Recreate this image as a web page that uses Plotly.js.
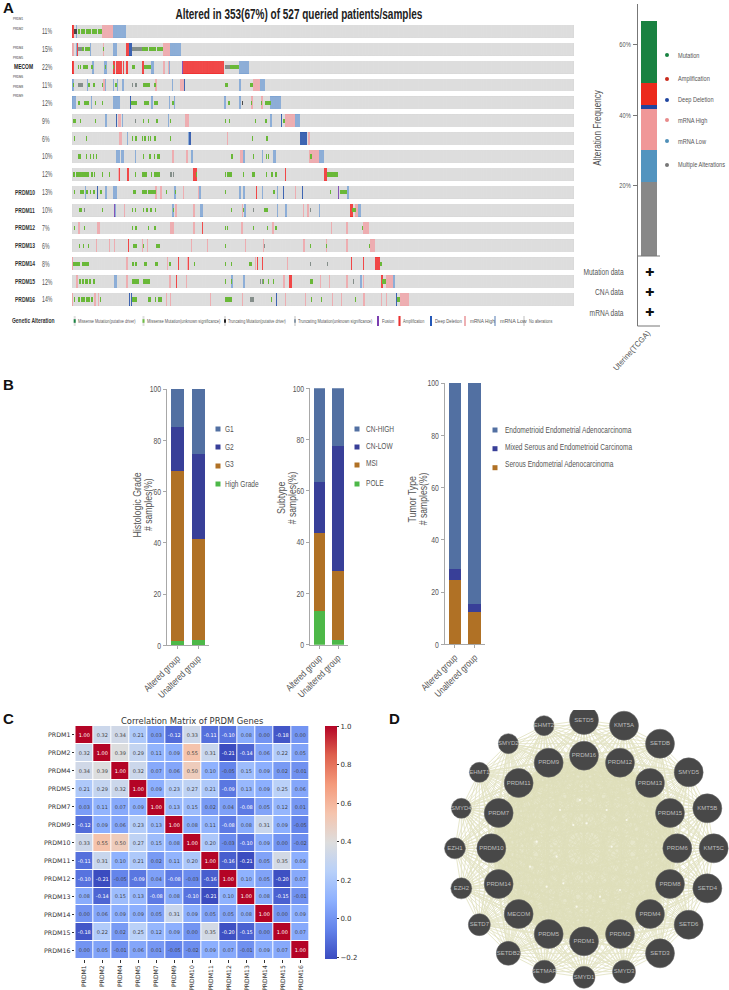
<!DOCTYPE html>
<html><head><meta charset="utf-8">
<script src="https://cdn.plot.ly/plotly-3.0.1.min.js"></script>
<style>html,body{margin:0;padding:0;background:#fff}</style></head>
<body><div id="chart" style="width:729px;height:990px"></div>
<script>
// ---------- Panel A oncoprint: alteration runs [firstSample,lastSample) per gene row ----------
const genes = ['PRDM1','PRDM2','MECOM','PRDM4','PRDM5','PRDM6','PRDM7','PRDM8','PRDM9','PRDM10','PRDM11','PRDM12','PRDM13','PRDM14','PRDM15','PRDM16'];
const pct = ['11%','15%','22%','11%','12%','9%','6%','10%','12%','13%','10%','7%','6%','8%','12%','14%'];
const mrnaHigh = [
 [[31,43]],
 [[0,2],[33,34],[57,60],[96,103]],
 [[96,98],[101,103]],
 [[33,35],[87,89],[113,118],[190,197]],
 [[188,190],[198,200]],
 [[36,37],[48,51],[119,123],[224,234]],
 [[49,52],[163,164],[248,250]],
 [[105,107],[120,122],[176,179],[249,259]],
 [[48,49],[58,59],[127,129],[224,225],[265,266]],
 [[87,89],[92,94],[116,118],[132,133],[193,194],[234,235]],
 [[55,56],[108,110],[127,129],[178,179],[243,244],[247,249],[297,300]],
 [[6,8],[26,29],[103,107],[127,129],[177,180],[210,212],[272,273],[288,290],[305,312]],
 [[25,26],[39,40],[44,45],[74,75],[79,80],[125,126],[142,143],[182,183],[201,202],[243,245],[267,268],[288,290],[313,318]],
 [[0,1],[57,59],[100,101],[121,122],[192,193],[226,227],[306,307]],
 [[4,6],[57,59],[102,104],[120,121],[222,224],[260,261],[270,271],[288,290],[306,307],[330,337]],
 [[0,1],[23,25],[27,28],[99,100],[103,104],[145,146],[178,179],[224,225],[245,246],[273,274],[282,283],[306,308],[324,325],[330,331],[344,354]]
];
const mrnaLow = [
 [[43,57],[4,5]],
 [[4,6],[19,20],[43,47],[103,114]],
 [[21,23],[34,37],[83,86],[102,103],[175,186]],
 [[0,2],[16,17],[35,36],[43,44],[47,48],[53,55],[105,106],[175,177],[197,203]],
 [[0,4],[20,21],[43,50],[83,85],[102,103],[107,108],[160,162],[175,177],[208,219]],
 [[35,37],[52,54],[101,102],[208,210],[234,239]],
 [[58,59],[122,123]],
 [[46,50],[51,55],[66,67],[125,127],[180,182],[199,200],[211,214],[259,265]],
 [],
 [[14,15],[35,37],[43,47],[107,109],[133,135],[175,177],[180,182],[199,200],[215,216],[289,291]],
 [[44,46],[105,107],[134,137],[181,183],[200,201],[215,216],[224,226],[259,260],[300,303]],
 [],
 [],
 [],
 [[44,47],[167,169],[180,182],[302,304],[337,339]],
 []
];
const amp = [
 [[0,2]],
 [[5,6],[57,60]],
 [[0,2],[43,45],[46,53],[54,55],[57,59],[74,76],[117,160]],
 [],[],[],[],[],
 [[49,50],[58,60],[127,131],[224,225],[265,268]],
 [[193,194]],
 [[292,295]],
 [[136,138]],
 [[59,60]],
 [[52,53],[111,112],[122,123],[194,195],[199,200],[293,294],[306,307],[318,323]],
 [[109,110],[228,231],[324,326]],
 []
];
const deepDel = [
 [],
 [[60,63]],
 [],
 [[118,119]],
 [[61,62]],
 [[46,47],[219,220]],
 [[123,125],[239,247]],
 [],
 [],
 [[26,27],[222,223],[241,242]],
 [],[],[],[],[],
 [[60,61],[62,63],[214,215],[340,341]]
];
const fusion = [
 [],[],[[115,117]],[],[],[],[],[],[],[[279,280]],[[44,45]],[],[],[],[],[]
];
const missense = [
 [[6,8],[9,14],[15,20],[21,26],[27,31]],
 [[10,13],[14,19],[33,34],[74,80],[81,88],[89,96]],
 [[6,7],[8,9],[12,17],[20,22],[35,36],[43,44],[63,66],[76,83],[166,175]],
 [[1,2],[17,19],[22,24],[32,33],[45,47],[75,82],[86,88],[161,164],[187,190]],
 [[6,8],[13,18],[24,25],[32,33],[62,68],[76,81],[86,90],[105,107],[164,166],[188,189],[198,199],[203,209]],
 [[1,4],[8,9],[24,25],[75,76],[80,81],[88,90],[103,104],[161,162],[165,166],[192,193],[203,205],[221,224]],
 [[2,3],[15,16],[63,64],[66,68],[74,75],[76,78],[80,81],[82,83],[86,88],[103,104],[189,190],[204,206]],
 [[6,9],[15,16],[19,20],[22,23],[25,26],[75,76],[81,83],[86,87],[89,92],[167,169],[190,191],[204,205],[206,207],[250,252]],
 [[1,3],[4,10],[11,18],[20,22],[23,24],[32,33],[39,40],[66,67],[74,79],[83,84],[86,92],[130,131],[161,162],[163,168],[180,181],[189,192],[204,205],[209,211],[213,215],[268,279]],
 [[2,3],[8,10],[11,13],[15,17],[19,20],[22,24],[29,31],[64,67],[74,79],[80,88],[99,100],[108,109],[161,162],[211,213],[271,272],[281,289]],
 [[7,11],[32,33],[63,64],[66,67],[75,76],[78,80],[82,84],[87,88],[106,107],[167,168],[180,181],[202,206],[294,298]],
 [[2,3],[10,11],[13,14],[63,64],[66,68],[80,81],[86,88],[161,162],[163,164],[190,191],[205,206],[213,215],[304,306]],
 [[7,8],[12,13],[17,18],[64,68],[75,76],[88,92],[161,162],[250,251],[267,268],[312,313]],
 [[1,8],[10,18],[63,65],[66,68],[76,79],[87,90],[102,104],[128,129],[161,162],[167,168],[186,189],[323,325]],
 [[7,9],[10,13],[14,17],[18,20],[22,24],[63,70],[75,82],[161,162],[167,168],[201,202],[206,207],[211,212],[250,253],[325,330]],
 [[2,3],[6,8],[9,14],[15,19],[20,22],[29,30],[63,68],[80,83],[87,88],[90,94],[161,168],[209,210],[251,252],[261,262],[297,298],[341,344]]
];
const truncating = [
 [],
 [[6,10],[63,74]],
 [[161,166]],
 [[6,12],[63,64],[66,68]],
 [],
 [[66,67]],
 [],[],
 [[103,105],[106,107]],
 [],
 [[13,14],[190,191],[250,251]],
 [],
 [[202,203]],
 [[250,251],[268,269]],
 [[197,198],[199,200],[295,296]],
 [[187,191]]
];
const driver = [
 [[2,5]],[],[],[],[[178,179]],[],[],[],[],[],[],[],[],[],[],[]
];
const sampleCount = 527;
// ---------- Panel A frequency bar ----------
const freqLabels = ['Multiple Alterations','mRNA Low','mRNA High','Deep Deletion','Amplification','Mutation'];
const freqValues = [21.1,8.9,11.6,1.3,6.1,17.7];
const freqColors = ['#888888','#5394bf','#f09798','#1f45a0','#ec2a1c','#198241'];
const dataTypes = ['Mutation data','CNA data','mRNA data'];
// ---------- Panel B ----------
const groups = ['Altered group','Unaltered group'];
const gradeValues = [[1.8,66.2,17,15],[2.2,39.1,33.5,25.2]];
const subtypeValues = [[13.3,30.4,19.6,36.7],[1.8,27.1,48.4,22.7]];
const tumorValues = [[24.6,4.4,71],[12.5,2.8,84.7]];
const stackColors4 = ['#4db848','#b07125','#383f98','#5270a2'];
const stackColors3 = ['#b07125','#383f98','#5270a2'];
// ---------- Panel C ----------
const corrGenes = ['PRDM1','PRDM2','PRDM4','PRDM5','PRDM7','PRDM9','PRDM10','PRDM11','PRDM12','PRDM13','PRDM14','PRDM15','PRDM16'];
const corr = [
 [1,.32,.34,.21,.03,-.12,.33,-.11,-.10,.08,0,-.18,0],
 [.32,1,.39,.29,.11,.09,.55,.31,-.21,-.14,.06,.22,.05],
 [.34,.39,1,.32,.07,.06,.50,.10,-.05,.15,.09,.02,-.01],
 [.21,.29,.32,1,.09,.23,.27,.21,-.09,.13,.09,.25,.06],
 [.03,.11,.07,.09,1,.13,.15,.02,.04,-.08,.05,.12,.01],
 [-.12,.09,.06,.23,.13,1,.08,.11,-.08,.08,.31,.09,-.05],
 [.33,.55,.50,.27,.15,.08,1,.20,-.03,-.10,.09,-.001,-.02],
 [-.11,.31,.10,.21,.02,.11,.20,1,-.16,-.21,.05,.35,.09],
 [-.10,-.21,-.05,-.09,.04,-.08,-.03,-.16,1,.10,.05,-.20,.07],
 [.08,-.14,.15,.13,-.08,.08,-.10,-.21,.10,1,.08,-.15,-.01],
 [0,.06,.09,.09,.05,.31,.09,.05,.05,.08,1,0,.09],
 [-.18,.22,.02,.25,.12,.09,-.001,.35,-.20,-.15,0,1,.07],
 [0,.05,-.01,.06,.01,-.05,-.02,.09,.07,-.01,.09,.07,1]
];
const coolwarm = [[0,'#3b4cc0'],[.125,'#6282ea'],[.25,'#8db0fe'],[.375,'#b8d0f9'],[.5,'#dddddd'],[.625,'#f5c4ad'],[.75,'#f49a7b'],[.875,'#de604d'],[1,'#b40426']];
// ---------- Panel D network ----------
const netNames = ['SETD5','KMT5A','SETDB','SMYD5','KMT5B','KMT5C','SETD4','SETD6','SETD3','SMYD3','SMYD1','SETMAR','SETDB2','SETD7','EZH2','EZH1','SMYD4','EHMT1','SMYD2','EHMT2','PRDM16','PRDM12','PRDM13','PRDM15','PRDM6','PRDM8','PRDM4','PRDM2','PRDM1','PRDM5','MECOM','PRDM14','PRDM10','PRDM7','PRDM11','PRDM9'];
const netX = [492,612,720,806,862,881,862,806,720,612,492,373,265,178,124,105,124,178,265,372,492,600,690,750,772,750,690,600,492,386,296,236,214,236,296,386];
const netY = [30,47,101,187,295,415,535,644,730,785,802,785,730,644,535,415,295,187,101,47,137,158,219,309,415,522,612,672,694,672,612,522,415,309,219,158];
const netSize = [29,29,29,29,29,29,29,29,29,23,22,23,24,22,21,21,20,20,20,20,29,29,29,29,29,29,29,29,29,29,29,29,29,29,29,29];
const netGapX = [460,480,575,600,380,350,420,500,430,540,410,620,330,560,470];
const netGapY = [345,270,410,540,530,395,300,340,520,560,440,330,470,300,590];

// ---------- helpers ----------
const W=729,H=990, NARROW='"Liberation Sans",sans-serif', DJ='"DejaVu Sans",sans-serif';
const dx=(a,b)=>[a/W,b/W], dy=(top,bot)=>[1-bot/H,1-top/H];
const traces=[], annotations=[], shapes=[], squeezes=[];
function lbl(text,x,y,size,o={}){
 squeezes.push({s:o.sq||1,anchor:o.xanchor||'left'});
 annotations.push({text,x:x/W,y:1-y/H,xref:'paper',yref:'paper',showarrow:false,xanchor:o.xanchor||'left',yanchor:'middle',borderpad:0,textangle:o.textangle||0,
  font:{family:o.family||NARROW,size,color:o.color||'#444',weight:o.weight||400}});
}
function rect(x0,y0,x1,y1,c){shapes.push({type:'rect',xref:'paper',yref:'paper',x0:x0/W,x1:x1/W,y0:1-y0/H,y1:1-y1/H,fillcolor:c,line:{width:0},layer:'above'});}
function line(x0,y0,x1,y1,c,w){shapes.push({type:'line',xref:'paper',yref:'paper',x0:x0/W,x1:x1/W,y0:1-y0/H,y1:1-y1/H,line:{color:c,width:w||1},layer:'above'});}
const RH=0.716, MH=0.24;
function runs(layer,color,h){
 const xs=[],ws=[],bs=[],ys=[];
 layer.forEach((row,r)=>row.forEach(([a,b])=>{xs.push((a+b)/2);ws.push(b-a);bs.push(r-h/2);ys.push(h);}));
 traces.push({type:'bar',x:xs,y:ys,base:bs,width:ws,marker:{color,line:{width:0}},xaxis:'x',yaxis:'y',hoverinfo:'skip'});
}
// Oncoprint: every sample of every gene starts as "no alteration"
runs(genes.map(()=>[[0,sampleCount]]),'#d6d6d6',RH);
runs(mrnaHigh,'#ea9b9f',RH);
runs(mrnaLow,'#729bce',RH);
runs(amp,'#ee1c1c',RH);
runs(deepDel,'#10409f',RH);
runs(fusion,'#6a2ca6',RH);
runs(missense,'#46a809',MH);
runs(truncating,'#68746f',MH);
runs(driver,'#1c1c1c',MH);
// Thin gaps between the sample columns
const sepX=[],sepY=[];
genes.forEach((g,r)=>{for(let s=1;s<sampleCount;s++){sepX.push(s,s,null);sepY.push(r-RH/2,r+RH/2,null);}});
traces.push({type:'scatter',mode:'lines',x:sepX,y:sepY,line:{color:'#ffffff',width:.2},xaxis:'x',yaxis:'y',hoverinfo:'skip'});
// Frequency stacked bar
let cum=0;
freqValues.forEach((v,i)=>{traces.push({type:'bar',x:[0.52],y:[v],base:[cum],width:[0.7],marker:{color:freqColors[i],line:{width:0}},xaxis:'x2',yaxis:'y2',hoverinfo:'skip'});cum+=v;});
// Panel B stacks
function stack(values,colors,ax,ay){
 colors.forEach((c,i)=>{
  const base=values.map(v=>v.slice(0,i).reduce((s,n)=>s+n,0));
  traces.push({type:'bar',x:groups,y:values.map(v=>v[i]),base,width:[.63,.63],marker:{color:c,line:{width:0}},xaxis:ax,yaxis:ay,hoverinfo:'skip'});
 });
}
stack(gradeValues,stackColors4,'x3','y3');
stack(subtypeValues,stackColors4,'x4','y4');
stack(tumorValues,stackColors3,'x5','y5');
// Heatmap
traces.push({type:'heatmap',z:corr,x:corrGenes,y:corrGenes,xaxis:'x6',yaxis:'y6',zmin:-.21,zmax:1,colorscale:coolwarm,xgap:1,ygap:1,texttemplate:'%{z:.2f}',textfont:{family:DJ,size:5},hoverinfo:'skip',
 colorbar:{x:324.7/W,xanchor:'left',y:1-959.3/H,yanchor:'bottom',thicknessmode:'pixels',thickness:11.5,lenmode:'pixels',len:233.3,ypad:0,xpad:0,outlinewidth:0,tickvals:[-.2,0,.2,.4,.6,.8,1],tickformat:'.1f',ticks:'outside',ticklen:2.5,tickcolor:'#333',tickfont:{family:DJ,size:7,color:'#333'}}});
// Network: pale disc inside the inner ring, all gene pairs as edges, gaps in the mesh, then nodes
const ringStart=netNames.indexOf('PRDM16');
traces.push({type:'scatter',mode:'lines',x:netX.slice(ringStart).concat(netX[ringStart]),y:netY.slice(ringStart).concat(netY[ringStart]),fill:'toself',fillcolor:'#e6e6ca',line:{width:0,color:'#e6e6ca'},xaxis:'x7',yaxis:'y7',hoverinfo:'skip'});
const ex=[],ey=[];
netNames.forEach((a,i)=>netNames.forEach((b,j)=>{if(j>i){ex.push(netX[i],netX[j],null);ey.push(netY[i],netY[j],null);}}));
traces.push({type:'scatter',mode:'lines',x:ex,y:ey,line:{color:'#dedeb8',width:.9},opacity:.8,xaxis:'x7',yaxis:'y7',hoverinfo:'skip'});
traces.push({type:'scatter',mode:'markers',x:netGapX,y:netGapY,marker:{size:2.2,color:'#fbfbf2',opacity:.9,line:{width:0}},xaxis:'x7',yaxis:'y7',hoverinfo:'skip'});
traces.push({type:'scatter',mode:'markers+text',x:netX,y:netY,text:netNames,textposition:'middle center',textfont:{family:'"Liberation Sans",sans-serif',size:6,color:'#bdbdbd'},marker:{size:netSize,color:'#484848',opacity:1,line:{width:.5,color:'#6a6a6a'}},xaxis:'x7',yaxis:'y7',hoverinfo:'skip'});

// ---------- axes ----------
const hidden={showgrid:false,zeroline:false,showline:false,showticklabels:false,ticks:'',fixedrange:true};
const bAxisY=(d)=>({domain:d,range:[0,100],tickvals:[0,20,40,60,80,100],showgrid:false,zeroline:false,showline:true,linecolor:'#a8a8a8',linewidth:1,ticks:'outside',ticklen:3,tickcolor:'#a8a8a8',tickfont:{family:NARROW,size:9.5,color:'#555'},fixedrange:true});
const bAxisX=(d,a)=>({domain:d,type:'category',range:[-.507,1.52],showgrid:false,zeroline:false,showline:true,linecolor:'#a8a8a8',linewidth:1,ticks:'outside',ticklen:3,tickcolor:'#a8a8a8',tickangle:-45,tickfont:{family:NARROW,size:9.5,color:'#555'},fixedrange:true,anchor:a});
const layout={width:W,height:H,margin:{l:0,r:0,t:0,b:0,pad:0},paper_bgcolor:'#fff',plot_bgcolor:'rgba(0,0,0,0)',showlegend:false,barmode:'overlay',bargap:0,
 xaxis:Object.assign({},hidden,{domain:dx(72,574),range:[0,sampleCount],anchor:'y'}),
 yaxis:Object.assign({},hidden,{domain:dy(22,310),range:[15.59,-.526],anchor:'x'}),
 xaxis2:Object.assign({},hidden,{domain:dx(637.5,660),range:[0,1],anchor:'y2'}),
 yaxis2:{domain:dy(4,256),range:[0,71.5],tickvals:[20,40,60],ticktext:['20%','40%','60%'],showgrid:false,zeroline:false,showline:true,linecolor:'#777',linewidth:1,ticks:'outside',ticklen:4,tickcolor:'#777',tickfont:{family:NARROW,size:8,color:'#555'},fixedrange:true,anchor:'x2'},
 xaxis3:bAxisX(dx(167,209),'y3'), yaxis3:Object.assign(bAxisY(dy(389,645.3)),{anchor:'x3'}),
 xaxis4:bAxisX(dx(310,347.7),'y4'), yaxis4:Object.assign(bAxisY(dy(388.3,644.7)),{anchor:'x4'}),
 xaxis5:bAxisX(dx(444.7,485),'y5'), yaxis5:Object.assign(bAxisY(dy(383,644.3)),{anchor:'x5'}),
 xaxis6:{domain:dx(75.3,309.7),type:'category',tickangle:-90,ticks:'outside',ticklen:2.5,tickcolor:'#333',showgrid:false,zeroline:false,showline:false,tickfont:{family:DJ,size:6.1,color:'#333'},fixedrange:true,anchor:'y6'},
 yaxis6:{domain:dy(726,959.3),type:'category',autorange:'reversed',ticks:'outside',ticklen:2.5,tickcolor:'#333',showgrid:false,zeroline:false,showline:false,tickfont:{family:DJ,size:6.3,color:'#333'},fixedrange:true,anchor:'x6'},
 xaxis7:Object.assign({},hidden,{domain:dx(420,729),range:[0,927],anchor:'y7'}),
 yaxis7:Object.assign({},hidden,{domain:dy(710,990),range:[840,0],anchor:'x7'}),
 annotations,shapes};

// ---------- Text, panel A ----------
[['A',2,7],['B',2,385],['C',2,718],['D',388,718]].forEach(([t,x,y])=>lbl(t,x,y,15,{color:'#111',weight:700}));
lbl('Altered in 353(67%) of 527 queried patients/samples',299,14,14.5,{xanchor:'center',color:'#222',weight:700,sq:.69});
const rowCenter=r=>31.4+17.87*r;
genes.forEach((g,r)=>lbl(pct[r],41,rowCenter(r),8.4,{color:'#555',sq:.62}));
// The small gene labels of the first rows are printed away from their rows
const smallLabels=[['PRDM1',19],['PRDM2',29],['PRDM4',48],['PRDM5',58],['PRDM6',77],['PRDM8',87],['PRDM9',96]];
smallLabels.forEach(([t,y])=>lbl(t,12,y,3.6,{color:'#333',sq:.8}));
lbl('MECOM',13,67,8,{color:'#222',weight:700,sq:.62});
genes.slice(9).forEach((g,k)=>lbl(g,14,rowCenter(9+k),8,{color:'#333',weight:700,sq:.62}));
lbl('Genetic Alteration',11,320,8,{color:'#333',weight:700,sq:.62});
const legendA=[['Missense Mutation(putative driver)',74.7,76.7,'#198241',.36,63],['Missense Mutation(unknown significance)',143.5,146,'#6fbe44',.36,76],['Truncating Mutation(putative driver)',225,227,'#222',.36,65],['Truncating Mutation(unknown significance)',295,297,'#8a9aa8',.36,79],['Fusion',378,381,'#7b3fb0',1,12],['Amplification',399.5,402,'#ee2f2f',1,24],['Deep Deletion',431,434,'#2458b8',1,27],['mRNA High',465,469,'#eeb0b3',1,21],['mRNA Low',495,499,'#a8bcd8',1,21],['No alterations',524,528,'#dedede',1,26]];
legendA.forEach(([t,kx,tx,c,f,w])=>{
 rect(kx-1,316,kx+1,326,'#dedede');
 const h=5*f; rect(kx-1,321-h,kx+1,321+h,c);
 lbl(t,tx,321,5.8,{color:'#555',sq:w/(t.length*2.85)});
});
// frequency annotations
lbl('Alteration Frequency',598,128,10,{xanchor:'center',textangle:-90,color:'#555',sq:.82});
const freqLegend=[['Mutation',55,'#198241'],['Amplification',79,'#c92a1c'],['Deep Deletion',100,'#1f45a0'],['mRNA High',120,'#e88a8a'],['mRNA Low',141,'#4f8fb8'],['Multiple Alterations',165,'#777']];
freqLegend.forEach(([t,y,c])=>{shapes.push({type:'circle',xref:'paper',yref:'paper',x0:665/W,x1:669/W,y0:1-(y-2)/H,y1:1-(y+2)/H,fillcolor:c,line:{width:0}});lbl(t,677,y,8,{color:'#555',sq:.7});});
line(637.5,256,660,256,'#777',1);
line(637.5,256,637.5,326,'#777',1);
line(637.5,326,660,326,'#777',1);
dataTypes.forEach((t,i)=>{const y=[272,292,313][i];lbl(t,625,y,8.5,{xanchor:'right',color:'#555',sq:.78});lbl('✚',649,y,11,{xanchor:'center',family:DJ,color:'#111'});});
lbl('Uterine(TCGA)',632,350.5,8,{xanchor:'center',textangle:-48,color:'#555',sq:.95});
// ---------- Text, panel B ----------
function rot(t,x,y,sq){lbl(t,x,y,10.5,{xanchor:'center',textangle:-90,color:'#555',sq});}
rot('Histologic Grade',136.7,505,.84);rot('# samples(%)',147.7,505,.82);
rot('Subtype',281,498,.84);rot('# samples(%)',292,498,.82);
rot('Tumor Type',412,499,.84);rot('# samples(%)',423,499,.82);
function leg(names,colors,kx,tx,ys,tys){names.forEach((t,i)=>{rect(kx-2.5,ys[i]-2.5,kx+2.5,ys[i]+2.5,colors[i]);lbl(t,tx,tys[i],9,{color:'#555',sq:.73});});}
leg(['G1','G2','G3','High Grade'],['#5270a2','#383f98','#b07125','#4db848'],218,224,[429,447,466,484],[429,447,464,484]);
leg(['CN-HIGH','CN-LOW','MSI','POLE'],['#5270a2','#383f98','#b07125','#4db848'],357,365,[429,447,465,484],[428.7,446,463,483]);
leg(['Endometrioid Endometrial Adenocarcinoma','Mixed Serous and Endometrioid Carcinoma','Serous Endometrial Adenocarcinoma'],['#5270a2','#383f98','#b07125'],495,504,[430,448.7,467.7],[430,446.7,463.7]);
// ---------- Text, panel C ----------
lbl('Correlation Matrix of PRDM Genes',192,720.5,8.4,{xanchor:'center',family:DJ,color:'#333'});

// Horizontally condense the text the way the condensed print face of the reference does
function squeezeText(el,s,anchor){
 const before=el.getBBox();
 const len=el.getComputedTextLength();
 el.setAttribute('textLength',len*s);
 el.setAttribute('lengthAdjust','spacingAndGlyphs');
 if(!anchor) return;
 const after=el.getBBox();
 const target=anchor==='left'?before.x:anchor==='right'?before.x+before.width:before.x+before.width/2;
 const now=anchor==='left'?after.x:anchor==='right'?after.x+after.width:after.x+after.width/2;
 el.setAttribute('x',parseFloat(el.getAttribute('x')||0)+target-now);
}
Plotly.newPlot('chart',traces,layout,{displayModeBar:false,staticPlot:true}).then(gd=>{
 gd.querySelectorAll('.annotation').forEach(a=>{
  const q=squeezes[+a.getAttribute('data-index')], t=a.querySelector('text');
  if(q&&t&&q.s!==1) squeezeText(t,q.s,q.anchor);
 });
 ['x3','x4','x5'].forEach(n=>gd.querySelectorAll('.'+n+'tick text').forEach(t=>squeezeText(t,.82)));
 ['y3','y4','y5','y2'].forEach(n=>gd.querySelectorAll('.'+n+'tick text').forEach(t=>squeezeText(t,.72)));
});
</script></body></html>
